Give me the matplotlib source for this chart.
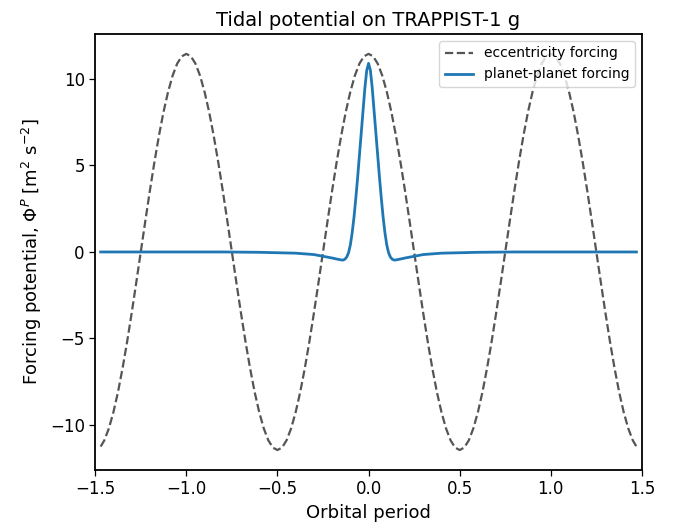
import matplotlib
matplotlib.use('Agg')
import matplotlib.pyplot as plt
import numpy as np

# eccentricity forcing, every 0.025 from -1.45 to 1.45,
# plus the two end points at +-1.47
ecc_ends = [-11.25, -11.25]
ecc_y = [-10.89, -10.20, -9.26, -8.10, -6.73, -5.20, -3.54, -1.79, 0.0, 1.79, 3.54, 5.20, 6.73, 8.10, 9.26, 10.20, 10.89, 11.31,
         11.45, 11.31, 10.89, 10.20, 9.26, 8.10, 6.73, 5.20, 3.54, 1.79, 0.0, -1.79, -3.54, -5.20, -6.73, -8.10, -9.26, -10.20, -10.89, -11.31,
         -11.45, -11.31, -10.89, -10.20, -9.26, -8.10, -6.73, -5.20, -3.54, -1.79, 0.0, 1.79, 3.54, 5.20, 6.73, 8.10, 9.26, 10.20, 10.89, 11.31,
         11.45, 11.31, 10.89, 10.20, 9.26, 8.10, 6.73, 5.20, 3.54, 1.79, 0.0, -1.79, -3.54, -5.20, -6.73, -8.10, -9.26, -10.20, -10.89, -11.31,
         -11.45, -11.31, -10.89, -10.20, -9.26, -8.10, -6.73, -5.20, -3.54, -1.79, 0.0, 1.79, 3.54, 5.20, 6.73, 8.10, 9.26, 10.20, 10.89, 11.31,
         11.45, 11.31, 10.89, 10.20, 9.26, 8.10, 6.73, 5.20, 3.54, 1.79, 0.0, -1.79, -3.54, -5.20, -6.73, -8.10, -9.26, -10.20, -10.89]

# planet-planet forcing
pp_x = [-1.47, -0.8, -0.6, -0.4, -0.3, -0.25, -0.2, -0.17, -0.15, -0.14, -0.13,
        -0.12, -0.11, -0.10, -0.09, -0.08, -0.07, -0.06, -0.05, -0.04, -0.03,
        -0.02, -0.01, 0.0, 0.01, 0.02, 0.03, 0.04, 0.05, 0.06, 0.07, 0.08,
        0.09, 0.10, 0.11, 0.12, 0.13, 0.14, 0.15, 0.17, 0.2, 0.25, 0.3, 0.4,
        0.6, 0.8, 1.47]
pp_y = [0.0, 0.0, -0.02, -0.07, -0.15, -0.25, -0.35, -0.42, -0.46, -0.47, -0.42,
        -0.3, -0.05, 0.4, 1.1, 2.0, 3.1, 4.3, 5.6, 6.9, 8.2,
        9.5, 10.5, 10.9, 10.5, 9.5, 8.2, 6.9, 5.6, 4.3, 3.1, 2.0,
        1.1, 0.4, -0.05, -0.3, -0.42, -0.47, -0.46, -0.42, -0.35, -0.25, -0.15, -0.07,
        -0.02, 0.0, 0.0]

ecc_x = [-1.47] + list(np.round(np.arange(-1.45, 1.4501, 0.025), 3)) + [1.47]
ecc_all = [ecc_ends[0]] + ecc_y + [ecc_ends[1]]

plt.rcParams['font.size'] = 12

fig = plt.figure(figsize=(6.8, 5.31), dpi=100)
ax = fig.add_axes([0.14, 0.115, 0.804, 0.821])

ax.plot(ecc_x, ecc_all, '--', color='#555555', lw=1.6, label='eccentricity forcing')
ax.plot(pp_x, pp_y, color='tab:blue', lw=2, label='planet-planet forcing')

ax.set_xlim(-1.5, 1.5)
ax.set_ylim(-12.6, 12.6)
ax.set_xticks([-1.5, -1.0, -0.5, 0.0, 0.5, 1.0, 1.5])
ax.set_yticks([-10, -5, 0, 5, 10])
for s in ax.spines.values():
    s.set_linewidth(1.3)
ax.tick_params(width=0.9, length=4)

ax.set_xlabel('Orbital period', fontsize=13)
ax.set_ylabel(r'Forcing potential, $\Phi^P$ [m$^2$ s$^{-2}$]', fontsize=13)
ax.set_title('Tidal potential on TRAPPIST-1 g', fontsize=14)
ax.legend(loc='upper right', fontsize=10)

fig.savefig('out.png', dpi=100)
